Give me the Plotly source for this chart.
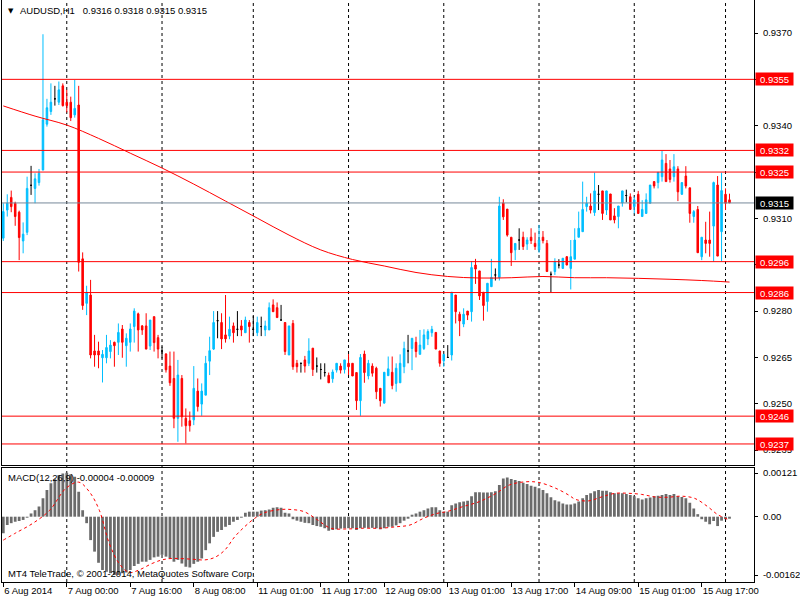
import plotly.graph_objects as go

# ---------------- data ----------------
bar_index = list(range(184))

open_pips = [
    9303.6, 9312.7, 9316.8, 9314.9, 9312.0, 9302.7, 9305.5, 9320.7, 9319.7, 9321.6,
    9325.7, 9340.5, 9344.6, 9348.7, 9347.6, 9352.9, 9347.6, 9347.6, 9343.5, 9346.7,
    9296.9, 9282.5, 9285.2, 9267.1, 9267.1, 9264.9, 9264.9, 9266.9, 9269.9, 9269.9,
    9274.2, 9268.8, 9269.9, 9275.0, 9279.1, 9275.2, 9275.2, 9268.7, 9278.2, 9271.4,
    9267.1, 9266.1, 9262.2, 9258.2, 9245.3, 9258.2, 9245.3, 9244.5, 9244.8, 9254.1,
    9249.9, 9252.8, 9263.8, 9267.7, 9276.9, 9276.3, 9272.3, 9271.9, 9275.2, 9274.1,
    9275.2, 9273.0, 9276.3, 9274.1, 9273.0, 9275.0, 9273.9, 9273.9, 9282.0, 9281.1,
    9277.1, 9276.3, 9265.8, 9276.0, 9263.1, 9263.1, 9264.2, 9263.1, 9268.0, 9262.2,
    9261.1, 9260.1, 9259.2, 9258.1, 9260.9, 9262.2, 9261.1, 9263.1, 9263.1, 9260.1,
    9251.0, 9266.1, 9259.0, 9262.2, 9261.5, 9255.0, 9250.2, 9259.1, 9260.2, 9256.6,
    9256.8, 9262.0, 9267.1, 9267.9, 9269.9, 9266.0, 9267.9, 9271.0, 9273.0, 9273.1,
    9267.1, 9263.9, 9265.0, 9265.8, 9285.2, 9279.0, 9275.8, 9280.0, 9279.8, 9294.9,
    9293.0, 9286.1, 9283.1, 9287.9, 9291.7, 9290.9, 9315.0, 9313.0, 9303.9, 9299.8,
    9303.0, 9303.9, 9301.7, 9303.9, 9301.9, 9299.8, 9303.9, 9301.9, 9291.9, 9292.8,
    9294.9, 9293.8, 9297.6, 9293.8, 9296.8, 9303.9, 9305.7, 9313.8, 9314.0, 9311.9,
    9317.8, 9318.9, 9312.7, 9317.9, 9310.8, 9310.6, 9315.0, 9317.4, 9317.0, 9313.8,
    9317.8, 9310.6, 9311.6, 9314.9, 9321.9, 9321.6, 9323.5, 9327.8, 9326.0, 9323.5,
    9326.0, 9317.8, 9323.7, 9319.9, 9310.6, 9312.9, 9297.6, 9303.0, 9303.0, 9307.5,
    9320.8, 9305.7, 9317.8, 9316.0]

high_pips = [
    9314.9, 9317.8, 9319.0, 9315.4, 9312.5, 9308.7, 9323.5, 9327.0, 9324.6, 9326.0,
    9369.6, 9348.7, 9353.7, 9352.9, 9354.3, 9353.7, 9351.6, 9349.4, 9354.8, 9352.9,
    9299.0, 9288.2, 9290.1, 9272.3, 9270.1, 9267.4, 9272.3, 9270.6, 9270.1, 9276.0,
    9275.5, 9272.8, 9276.0, 9280.9, 9279.5, 9275.5, 9279.3, 9277.1, 9278.2, 9272.3,
    9268.5, 9266.4, 9266.9, 9266.9, 9264.2, 9259.3, 9248.5, 9247.5, 9262.2, 9258.2,
    9256.6, 9265.5, 9271.7, 9280.0, 9280.0, 9279.3, 9285.2, 9278.2, 9276.3, 9280.0,
    9277.1, 9278.2, 9277.1, 9278.4, 9278.2, 9278.2, 9276.9, 9282.8, 9283.8, 9282.8,
    9282.0, 9276.3, 9275.2, 9277.1, 9264.2, 9263.1, 9265.5, 9271.2, 9268.0, 9265.0,
    9263.1, 9263.1, 9260.1, 9261.1, 9263.1, 9263.1, 9264.2, 9266.1, 9263.1, 9260.1,
    9266.1, 9267.2, 9264.2, 9263.1, 9262.0, 9255.0, 9260.2, 9265.3, 9265.3, 9263.1,
    9266.0, 9270.1, 9272.3, 9271.2, 9271.7, 9273.9, 9274.1, 9274.1, 9275.2, 9273.1,
    9267.1, 9266.0, 9269.0, 9286.1, 9285.2, 9279.8, 9280.9, 9280.0, 9296.2, 9296.9,
    9293.0, 9286.1, 9289.0, 9296.9, 9293.8, 9317.0, 9316.2, 9313.0, 9303.9, 9301.9,
    9306.8, 9305.7, 9303.9, 9306.8, 9305.4, 9307.9, 9305.9, 9303.0, 9292.8, 9297.1,
    9296.8, 9297.1, 9297.8, 9303.0, 9306.8, 9312.2, 9321.9, 9317.0, 9318.1, 9324.8,
    9320.8, 9318.9, 9318.9, 9317.9, 9313.3, 9314.0, 9318.9, 9319.3, 9318.1, 9317.0,
    9318.9, 9315.9, 9318.1, 9320.8, 9321.9, 9324.9, 9331.8, 9330.8, 9328.9, 9330.8,
    9326.9, 9321.6, 9326.9, 9319.9, 9312.7, 9314.0, 9303.9, 9308.9, 9312.2, 9321.9,
    9323.7, 9324.8, 9319.7, 9318.0]

low_pips = [
    9302.7, 9310.6, 9312.0, 9307.6, 9296.5, 9298.7, 9304.6, 9317.6, 9314.9, 9320.6,
    9325.5, 9339.7, 9343.5, 9346.5, 9346.7, 9346.2, 9344.3, 9341.5, 9342.6, 9292.8,
    9280.4, 9278.7, 9264.7, 9262.0, 9261.5, 9256.9, 9263.1, 9264.7, 9262.0, 9265.8,
    9264.9, 9262.0, 9266.9, 9269.8, 9266.9, 9272.3, 9267.7, 9267.4, 9266.9, 9264.7,
    9264.7, 9260.1, 9255.8, 9242.1, 9237.7, 9242.6, 9237.2, 9241.0, 9243.1, 9247.5,
    9246.1, 9252.8, 9259.3, 9267.4, 9271.2, 9267.7, 9269.8, 9270.9, 9269.8, 9271.9,
    9271.9, 9273.0, 9269.8, 9271.9, 9271.9, 9271.9, 9271.9, 9273.9, 9279.8, 9277.9,
    9277.1, 9265.8, 9265.8, 9261.0, 9260.1, 9260.1, 9260.1, 9262.2, 9259.0, 9260.1,
    9257.9, 9258.8, 9256.8, 9256.8, 9260.1, 9259.8, 9259.8, 9259.3, 9259.0, 9248.0,
    9246.1, 9256.8, 9257.9, 9258.8, 9251.5, 9249.1, 9250.2, 9259.1, 9254.7, 9253.9,
    9256.8, 9259.9, 9263.1, 9260.9, 9265.0, 9266.0, 9267.4, 9269.0, 9271.7, 9267.7,
    9262.0, 9262.0, 9265.0, 9264.0, 9276.0, 9271.9, 9274.8, 9277.1, 9276.6, 9288.8,
    9283.6, 9276.9, 9279.8, 9287.9, 9289.9, 9289.9, 9309.5, 9304.1, 9294.6, 9296.5,
    9299.8, 9299.8, 9299.8, 9301.7, 9299.8, 9298.9, 9301.9, 9292.8, 9286.0, 9291.7,
    9293.8, 9293.8, 9294.9, 9287.0, 9296.8, 9303.9, 9305.7, 9312.2, 9311.6, 9310.8,
    9312.7, 9309.5, 9311.1, 9309.5, 9308.4, 9306.8, 9313.8, 9315.2, 9312.9, 9311.6,
    9311.6, 9310.6, 9311.6, 9314.9, 9319.7, 9319.7, 9321.9, 9321.9, 9321.6, 9321.9,
    9315.6, 9317.6, 9319.7, 9308.6, 9308.6, 9298.9, 9296.5, 9298.7, 9297.6, 9296.0,
    9297.8, 9296.0, 9312.7, 9315.0]

close_pips = [
    9312.2, 9314.9, 9313.8, 9310.6, 9303.8, 9304.9, 9319.7, 9320.7, 9322.8, 9324.6,
    9341.9, 9345.8, 9347.6, 9348.7, 9351.6, 9346.5, 9346.5, 9342.6, 9345.6, 9295.8,
    9281.8, 9286.1, 9265.8, 9265.8, 9265.8, 9266.0, 9268.2, 9269.0, 9268.8, 9273.1,
    9269.9, 9271.2, 9274.2, 9280.0, 9273.9, 9273.9, 9267.7, 9277.1, 9269.8, 9267.7,
    9267.1, 9261.0, 9256.8, 9245.3, 9259.3, 9245.8, 9242.9, 9242.9, 9255.0, 9249.1,
    9254.1, 9263.1, 9267.2, 9276.3, 9276.9, 9271.0, 9271.0, 9274.1, 9273.0, 9274.1,
    9273.9, 9277.1, 9275.0, 9274.1, 9276.3, 9275.0, 9275.2, 9281.1, 9279.8, 9277.9,
    9277.1, 9266.9, 9275.2, 9262.0, 9262.0, 9263.1, 9262.2, 9267.1, 9261.1, 9262.2,
    9261.1, 9260.1, 9256.8, 9260.3, 9263.1, 9260.9, 9264.2, 9262.0, 9259.0, 9251.0,
    9265.0, 9260.1, 9263.1, 9259.9, 9253.9, 9251.0, 9260.2, 9261.3, 9255.9, 9261.5,
    9263.1, 9267.9, 9267.1, 9271.2, 9266.9, 9269.0, 9272.3, 9273.4, 9274.1, 9267.7,
    9263.1, 9266.0, 9265.0, 9286.1, 9279.8, 9276.8, 9279.0, 9278.7, 9294.1, 9293.6,
    9284.9, 9281.8, 9289.0, 9290.9, 9291.7, 9314.0, 9310.5, 9304.6, 9298.9, 9301.9,
    9303.0, 9300.9, 9303.0, 9302.8, 9300.9, 9303.0, 9302.8, 9292.8, 9291.9, 9296.0,
    9294.9, 9297.1, 9294.9, 9297.6, 9303.0, 9306.8, 9312.9, 9314.9, 9312.7, 9318.9,
    9317.8, 9311.6, 9318.9, 9309.5, 9309.5, 9314.0, 9318.9, 9317.4, 9312.9, 9316.0,
    9311.6, 9312.9, 9316.0, 9320.8, 9320.5, 9324.9, 9328.9, 9321.9, 9322.6, 9326.7,
    9318.6, 9321.6, 9320.5, 9311.6, 9312.2, 9298.9, 9303.9, 9301.9, 9301.9, 9321.6,
    9297.8, 9319.0, 9314.9, 9315.0]

# moving average (red line), read at every 8th bar
ma_bars = [0, 8, 16, 24, 32, 40, 48, 56, 64, 72, 80, 88, 96, 104, 112, 120,
           128, 136, 144, 152, 160, 168, 176, 183]
ma_pips = [9346.4, 9343.1, 9340.2, 9335.9, 9331.1, 9326.3, 9321.1, 9315.6,
           9310.1, 9304.6, 9299.8, 9296.7, 9294.6, 9292.5, 9291.2, 9290.7,
           9290.8, 9291.2, 9290.8, 9290.8, 9290.6, 9290.3, 9289.9, 9289.4]

# MACD histogram, in units of 0.00001
macd_e5 = [
    -46, -23, -18, -14, -12, -9, -2, 9, 18, 28,
    51, 74, 93, 104, 116, 120, 122, 118, 111, 69,
    18, -18, -65, -97, -128, -148, -153, -157, -162, -162,
    -157, -155, -148, -137, -131, -125, -125, -120, -113, -111,
    -106, -111, -116, -125, -120, -130, -139, -141, -131, -125,
    -116, -93, -74, -56, -42, -37, -28, -23, -14, -9,
    -2, 11, 14, 14, 14, 17, 18, 20, 25, 26,
    25, 11, 9, -7, -11, -14, -17, -18, -23, -26,
    -28, -32, -39, -37, -35, -33, -32, -32, -32, -37,
    -32, -31, -31, -31, -32, -35, -32, -28, -28, -24,
    -18, -11, -5, 5, 9, 14, 18, 23, 26, 26,
    18, 14, 14, 32, 37, 40, 42, 44, 57, 68,
    68, 67, 67, 68, 71, 88, 106, 109, 105, 102,
    99, 94, 91, 86, 83, 79, 74, 65, 54, 46,
    42, 37, 34, 34, 37, 42, 51, 60, 65, 71,
    74, 72, 72, 68, 65, 65, 65, 63, 60, 57,
    51, 48, 51, 53, 57, 58, 60, 63, 60, 63,
    57, 55, 51, 39, 23, 7, -7, -14, -21, -12,
    -26, -11, -7, -4]

# MACD signal (red dotted), in units of 0.00001
signal_bars = [0, 3, 7.5, 11.7, 15.8, 19, 21.7, 24.2, 26.7, 29.2, 31.7, 34.2,
               37.5, 40, 42.5, 47.5, 50.8, 53.3, 55.8, 58.3, 60.8, 63.3, 65.8,
               70, 72.5, 75.8, 79.2, 82.5, 86.7, 90.8, 95, 99, 102.5, 105.8,
               109.2, 111.7, 115.8, 120, 124.2, 127.5, 131.7, 135, 139.2, 142.5,
               144.2, 147.5, 150.8, 154.2, 157.5, 160.8, 164.2, 167.5, 170.8,
               174.2, 177.5, 180, 182.5, 183]
signal_e5 = [-65, -46, -18, 18, 79, 96, 69, 18, -74, -130, -155, -148,
             -130, -120, -116, -118, -120, -113, -93, -56, -28, -5, 11,
             20, 20, 14, -9, -32, -34, -32, -32, -28, -23, -5,
             9, 14, 28, 42, 65, 88, 97, 95, 79, 60,
             48, 44, 55, 65, 65, 62, 55, 54, 57,
             51, 28, 6, -7, -9]

label_bars = [0, 16, 32, 48, 64, 80, 96, 112, 128, 144, 160, 176]
label_text = ['6 Aug 2014', '7 Aug 00:00', '7 Aug 16:00', '8 Aug 08:00',
              '11 Aug 01:00', '11 Aug 17:00', '12 Aug 09:00', '13 Aug 01:00',
              '13 Aug 17:00', '14 Aug 09:00', '15 Aug 01:00', '15 Aug 17:00']
grid_bars = [16, 40, 63, 87, 111, 135, 159, 182]

level_prices = [0.9355, 0.9332, 0.9325, 0.9296, 0.9286, 0.9246, 0.9237]
bid_price = 0.9315
price_ticks = [0.9370, 0.9355, 0.9340, 0.9325, 0.9310, 0.9295, 0.9280,
               0.9265, 0.9250, 0.9235]
macd_ticks = [0.00121, 0.0, -0.00162]
macd_tick_text = ['0.00121', '0.00', '-0.00162']

header_text = 'AUDUSD,H1\u00a0\u00a0 0.9316 0.9318 0.9315 0.9315'
macd_title = 'MACD(12,26,9) -0.00004 -0.00009'
copyright_text = 'MT4 TeleTrade, \u00a9 2001-2014, MetaQuotes Software Corp.'

# ---------------- figure ----------------
opens = [v / 1e4 for v in open_pips]
highs = [v / 1e4 for v in high_pips]
lows = [v / 1e4 for v in low_pips]
closes = [v / 1e4 for v in close_pips]
ma_vals = [v / 1e4 for v in ma_pips]
macd_vals = [v / 1e5 for v in macd_e5]
signal_vals = [v / 1e5 for v in signal_e5]

BULL = '#00BFFF'
BEAR = '#FF0000'
DOJI = '#000000'
FONT = 'Liberation Sans, Arial, sans-serif'
FS = 9.5

fig = go.Figure()

groups = {BULL: [], BEAR: [], DOJI: []}
for i in bar_index:
    if closes[i] > opens[i]:
        groups[BULL].append(i)
    elif closes[i] < opens[i]:
        groups[BEAR].append(i)
    else:
        groups[DOJI].append(i)

for col, idx in groups.items():
    fig.add_trace(go.Candlestick(
        x=[bar_index[i] for i in idx],
        open=[opens[i] for i in idx], high=[highs[i] for i in idx],
        low=[lows[i] for i in idx], close=[closes[i] for i in idx],
        increasing=dict(line=dict(color=col, width=1), fillcolor=col),
        decreasing=dict(line=dict(color=col, width=1), fillcolor=col),
        whiskerwidth=0, xaxis='x', yaxis='y', showlegend=False, hoverinfo='skip'))

fig.add_trace(go.Scatter(x=ma_bars, y=ma_vals, mode='lines',
                         line=dict(color='#FF0000', width=1, shape='spline'),
                         xaxis='x', yaxis='y', showlegend=False, hoverinfo='skip'))

fig.add_trace(go.Bar(x=bar_index, y=macd_vals, marker=dict(color='#6b6b6b', line=dict(width=0)),
                     xaxis='x2', yaxis='y2', showlegend=False, hoverinfo='skip'))
fig.add_trace(go.Scatter(x=signal_bars, y=signal_vals, mode='lines',
                         line=dict(color='#FF0000', width=1, dash='dot', shape='spline'),
                         xaxis='x2', yaxis='y2', showlegend=False, hoverinfo='skip'))

H_PLOT = 582.0
main_bottom = (H_PLOT - 465.0) / H_PLOT
macd_top = (H_PLOT - 467.7) / H_PLOT
x_range = [-0.325, 189.175]
y_range = [0.923019, 0.938068]
y2_range = [-0.001814, 0.001361]

# tick labels that sit exactly under a level box are hidden in the reference
covered = {round(p, 4) for p in level_prices}
price_tick_text = ['' if round(v, 4) in covered else f'{v:.4f}' for v in price_ticks]

shapes = []
for b in grid_bars:
    shapes.append(dict(type='line', xref='x', yref='paper', x0=b, x1=b, y0=0, y1=1,
                       line=dict(color='black', width=1, dash='3px,3px'), layer='below'))
for p in level_prices:
    shapes.append(dict(type='line', xref='paper', yref='y', x0=0, x1=1, y0=p, y1=p,
                       line=dict(color='#FF0000', width=1)))
shapes.append(dict(type='line', xref='paper', yref='y', x0=0, x1=1, y0=bid_price, y1=bid_price,
                   line=dict(color='#778899', width=1)))

annotations = []
for p in level_prices:
    annotations.append(dict(xref='paper', yref='y', x=1, y=p, xanchor='left', yanchor='middle',
                            xshift=1, text=f'{p:.4f}', showarrow=False, bgcolor='#FF0000',
                            font=dict(color='white', size=FS, family=FONT),
                            width=35, height=10, borderpad=1, align='center'))
annotations.append(dict(xref='paper', yref='y', x=1, y=bid_price, xanchor='left', yanchor='middle',
                        xshift=1, text=f'{bid_price:.4f}', showarrow=False, bgcolor='#000000',
                        font=dict(color='white', size=FS, family=FONT),
                        width=35, height=10, borderpad=1, align='center'))
annotations.append(dict(xref='paper', yref='paper', x=0, y=1, xanchor='left', yanchor='top',
                        xshift=4, yshift=-5, text='\u25bc', showarrow=False,
                        font=dict(size=7, color='black', family='DejaVu Sans')))
annotations.append(dict(xref='paper', yref='paper', x=0, y=1, xanchor='left', yanchor='top',
                        xshift=16, yshift=-3, text=header_text, showarrow=False,
                        font=dict(size=FS, color='black', family=FONT)))
annotations.append(dict(xref='paper', yref='paper', x=0, y=macd_top, xanchor='left', yanchor='top',
                        xshift=4, yshift=-2, text=macd_title, showarrow=False,
                        font=dict(size=FS, color='black', family=FONT)))
annotations.append(dict(xref='paper', yref='paper', x=0, y=0, xanchor='left', yanchor='bottom',
                        xshift=4, yshift=1, text=copyright_text, showarrow=False,
                        font=dict(size=FS, color='black', family=FONT)))

axis_common = dict(showgrid=False, zeroline=False, showline=True, linecolor='black', linewidth=1)

fig.update_layout(
    width=800, height=600, margin=dict(l=2, r=40, t=0, b=18),
    paper_bgcolor='white', plot_bgcolor='white', showlegend=False,
    boxgap=0.45, bargap=0.3, boxmode='overlay',
    font=dict(family=FONT, size=FS, color='black'),
    xaxis=dict(domain=[0, 1], anchor='y', range=x_range, showticklabels=False, ticks='',
               rangeslider=dict(visible=False), **axis_common),
    xaxis2=dict(domain=[0, 1], anchor='y2', matches='x', range=x_range, tickmode='array',
                tickvals=label_bars, ticktext=label_text, ticks='outside', ticklen=4,
                tickcolor='black', ticklabelposition='outside right', tickangle=0,
                mirror=True, tickfont=dict(size=FS, family=FONT, color='black'), **axis_common),
    yaxis=dict(domain=[main_bottom, 1], anchor='x', side='right', range=y_range,
               tickmode='array', tickvals=price_ticks,
               ticktext=price_tick_text, ticks='outside', ticklen=3,
               tickcolor='black', mirror=True, ticklabelstandoff=3,
               tickfont=dict(size=FS, family=FONT, color='black'), **axis_common),
    yaxis2=dict(domain=[0, macd_top], anchor='x2', side='right', range=y2_range,
                tickmode='array', tickvals=macd_ticks, ticktext=macd_tick_text,
                ticks='outside', ticklen=3, tickcolor='black', mirror=True, ticklabelstandoff=3,
                tickfont=dict(size=FS, family=FONT, color='black'), **axis_common),
    shapes=shapes, annotations=annotations,
)

fig.write_html('out.html', config={'displayModeBar': False},
               post_script="document.body.style.margin='0';document.body.style.overflow='hidden';")
